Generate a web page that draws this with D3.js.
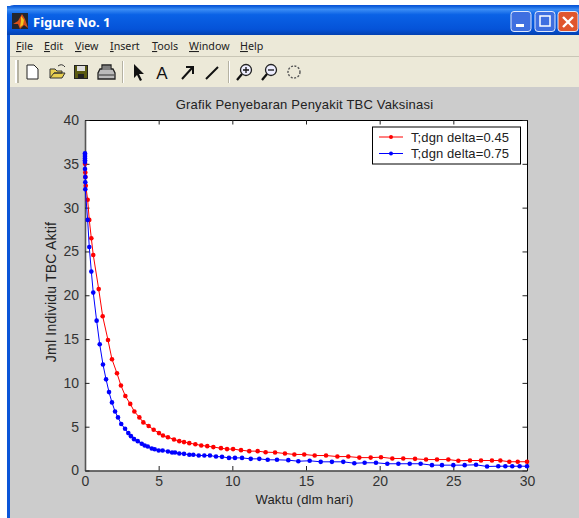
<!DOCTYPE html>
<html>
<head>
<meta charset="utf-8">
<script src="https://cdn.jsdelivr.net/npm/d3@7"></script>
<style>
html, body { margin: 0; padding: 0; background: #fff; overflow: hidden; }
svg { display: block; }
text { font-family: "Liberation Sans", Arial, sans-serif; fill: #222; }
.menu text, .menu { font-family: "Noto Sans", sans-serif; }
</style>
</head>
<body>
<div id="chart"></div>
<script>
var chartTitle = 'Grafik Penyebaran Penyakit TBC Vaksinasi';
var xLabel = 'Waktu (dlm hari)';
var yLabel = 'Jml Individu TBC Aktif';
var xTicks = [0, 5, 10, 15, 20, 25, 30];
var yTicks = [0, 5, 10, 15, 20, 25, 30, 35, 40];
var seriesNames = ['T;dgn delta=0.45', 'T;dgn delta=0.75'];
var menuItems = ['File', 'Edit', 'View', 'Insert', 'Tools', 'Window', 'Help'];

//time + value of the delta=0.45 curve
var redT = [0, 0.02, 0.03, 0.05, 0.18, 0.29, 0.43, 0.56, 0.93, 1.20, 1.56, 1.83, 2.17, 2.44, 2.74, 3.07, 3.35, 3.69, 3.96, 4.32, 4.66, 5.02, 5.29, 5.63, 6.04, 6.40, 6.72, 7.08, 7.49, 7.89, 8.30, 8.71, 9.23, 9.64, 10.05, 10.59, 11.15, 11.72, 12.26, 12.90, 13.57, 14.21, 14.88, 15.59, 16.36, 17.13, 17.87, 18.62, 19.39, 20.09, 20.86, 21.60, 22.40, 23.15, 23.89, 24.66, 25.34, 26.13, 26.88, 27.62, 28.19, 28.80, 29.37, 30];
var redV = [35.0, 34.0, 33.5, 32.5, 30.9, 28.6, 26.5, 24.6, 20.7, 17.6, 14.9, 12.7, 11.1, 9.7, 8.5, 7.6, 6.74, 6.06, 5.49, 5.07, 4.65, 4.27, 4.0, 3.8, 3.54, 3.35, 3.24, 3.12, 3.0, 2.86, 2.78, 2.67, 2.55, 2.44, 2.44, 2.32, 2.21, 2.21, 2.09, 2.06, 1.94, 1.83, 1.83, 1.71, 1.71, 1.59, 1.59, 1.47, 1.47, 1.52, 1.37, 1.37, 1.33, 1.25, 1.25, 1.25, 1.11, 1.14, 1.14, 1.14, 1.14, 1.0, 1.0, 1.0];

//same for delta=0.75
var blueT = [0, 0, 0, 0, 0, 0, 0, 0.02, 0.02, 0.02, 0.18, 0.29, 0.43, 0.56, 0.79, 1.0, 1.22, 1.43, 1.63, 1.83, 2.04, 2.24, 2.46, 2.72, 2.94, 3.12, 3.33, 3.58, 3.85, 4.05, 4.26, 4.53, 4.73, 5.0, 5.27, 5.63, 5.91, 6.11, 6.40, 6.72, 7.08, 7.35, 7.72, 8.10, 8.48, 8.89, 9.30, 9.77, 10.18, 10.66, 11.25, 11.83, 12.40, 13.03, 13.80, 14.48, 15.25, 16.0, 16.76, 17.53, 18.28, 18.98, 19.75, 20.52, 21.27, 22.04, 22.78, 23.55, 24.23, 25.0, 25.77, 26.54, 27.29, 28.05, 28.53, 29.0, 29.5, 30];
var blueV = [36.2, 36.0, 35.8, 35.6, 35.4, 35.2, 34.4, 33.5, 32.9, 32.1, 28.6, 25.5, 22.7, 20.3, 17.1, 14.4, 12.1, 10.4, 8.95, 7.77, 6.74, 6.06, 5.3, 4.76, 4.27, 3.92, 3.58, 3.35, 3.05, 2.86, 2.74, 2.51, 2.43, 2.29, 2.29, 2.17, 2.06, 2.06, 1.94, 1.90, 1.79, 1.79, 1.71, 1.71, 1.71, 1.59, 1.56, 1.44, 1.44, 1.44, 1.33, 1.33, 1.22, 1.22, 1.18, 1.06, 1.11, 0.99, 0.99, 0.99, 0.83, 0.88, 0.88, 0.77, 0.77, 0.77, 0.77, 0.61, 0.61, 0.61, 0.61, 0.65, 0.46, 0.49, 0.49, 0.49, 0.49, 0.49];

var svg = d3.select('#chart').append('svg').attr('width', 579).attr('height', 518);
var defs = svg.append('defs');

//title bar gradient
var grad = defs.append('linearGradient').attr('id', 'titlebar').attr('x1', 0).attr('x2', 0).attr('y1', 0).attr('y2', 1);
[[0, '#0a5ad8'], [0.12, '#3a8cf4'], [0.3, '#0a62e6'], [0.8, '#0553d8'], [1, '#0340b0']].forEach(function(s) {
    grad.append('stop').attr('offset', s[0]).attr('stop-color', s[1]);
});

//window frame
svg.append('path').attr('d', 'M7,518V12Q7,5 14,5H579V518Z').attr('fill', '#0a55d8');
svg.append('rect').attr('x', 7).attr('y', 6).attr('width', 572).attr('height', 29).attr('fill', 'url(#titlebar)');
svg.append('rect').attr('x', 10).attr('y', 35).attr('width', 569).attr('height', 52).attr('fill', '#ece9d8');
svg.append('rect').attr('x', 10).attr('y', 56).attr('width', 569).attr('height', 1).attr('fill', '#c9c6b6');
svg.append('rect').attr('x', 10).attr('y', 87).attr('width', 569).attr('height', 431).attr('fill', '#cccccc');

//matlab logo
svg.append('rect').attr('x', 12).attr('y', 13).attr('width', 16).attr('height', 16).attr('fill', '#23262e');
svg.append('path').attr('d', 'M13,24L18,21L22,14L25,19L28,28L24,25L20,29L18,24Z').attr('fill', '#d8501a');
svg.append('path').attr('d', 'M21,16L24,20L23,25L20,27L21,21Z').attr('fill', '#f4c820');

svg.append('text').attr('x', 33).attr('y', 27)
    .style('font-family', '"Noto Sans", sans-serif').style('font-weight', 700).style('font-size', '13px')
    .style('fill', '#fff').text('Figure No. 1');

//window buttons
[[511, '#3f6fe0'], [535, '#3f6fe0'], [558, '#e0552c']].forEach(function(b) {
    svg.append('rect').attr('x', b[0]).attr('y', 11.5).attr('width', 20).attr('height', 20).attr('rx', 3)
        .attr('fill', b[1]).attr('stroke', '#dfe8fb').attr('stroke-width', 1);
});
svg.append('rect').attr('x', 516).attr('y', 24).attr('width', 8).attr('height', 3).attr('fill', '#fff');
svg.append('rect').attr('x', 540).attr('y', 16).attr('width', 10).attr('height', 10).attr('fill', 'none').attr('stroke', '#fff').attr('stroke-width', 1.5);
svg.append('path').attr('d', 'M563,17L573,27M573,17L563,27').attr('stroke', '#fff').attr('stroke-width', 2.4);

//menu, first letter underlined
var menuX = [16, 44, 75, 110, 152, 189, 240];
var menuU = ['F', 'E', 'V', 'I', 'T', 'W', 'H'];
svg.append('g').attr('class', 'menu').selectAll('text').data(menuItems).enter().append('text')
    .attr('x', function(d, i) { return menuX[i]; })
    .attr('y', 50)
    .style('font-size', '10.7px')
    .each(function(d, i) {
        var t = d3.select(this);
        t.append('tspan').style('text-decoration', 'underline').text(menuU[i]);
        t.append('tspan').text(d.slice(1));
    });

//toolbar
var tb = svg.append('g');
tb.append('rect').attr('x', 15).attr('y', 60).attr('width', 2).attr('height', 23).attr('fill', '#fff');
tb.append('rect').attr('x', 17).attr('y', 60).attr('width', 2).attr('height', 23).attr('fill', '#b5b2a2');
[122, 228].forEach(function(x) {
    tb.append('rect').attr('x', x).attr('y', 61).attr('width', 1).attr('height', 22).attr('fill', '#b5b2a2');
    tb.append('rect').attr('x', x + 1).attr('y', 61).attr('width', 1).attr('height', 22).attr('fill', '#fff');
});
tb.append('path').attr('d', 'M27,65H34L38,69V79H27Z').attr('fill', '#fff').attr('stroke', '#222');
tb.append('path').attr('d', 'M50,78V69H55L57,71H62V73H54L50,78H62L65,73H54').attr('fill', '#e8cf50').attr('stroke', '#333');
tb.append('path').attr('d', 'M58,66Q62,63 65,67').attr('fill', 'none').attr('stroke', '#333');
tb.append('rect').attr('x', 74.5).attr('y', 65.5).attr('width', 13).attr('height', 13).attr('fill', '#5a5a10').attr('stroke', '#222');
tb.append('rect').attr('x', 77).attr('y', 66).attr('width', 8).attr('height', 5).attr('fill', '#ddd');
tb.append('rect').attr('x', 78).attr('y', 74).attr('width', 6).attr('height', 4).attr('fill', '#222');
tb.append('path').attr('d', 'M102,65H111V69H113L115,73V79H98V73L100,69H102Z').attr('fill', '#bbb').attr('stroke', '#222').attr('stroke-width', 1.3);
tb.append('path').attr('d', 'M103,67H110M103,69H110').attr('stroke', '#444');
tb.append('path').attr('d', 'M99,75H114').attr('stroke', '#333');
tb.append('path').attr('d', 'M134,64V78L137,75L140,81L142,80L139,74H144Z').attr('fill', '#111');
tb.append('text').attr('x', 162).attr('y', 79).attr('text-anchor', 'middle').style('font-size', '17px').style('fill', '#111').text('A');
tb.append('path').attr('d', 'M182,79L192,68M186,67H193V74').attr('fill', 'none').attr('stroke', '#111').attr('stroke-width', 2);
tb.append('path').attr('d', 'M206,79L218,67').attr('stroke', '#111').attr('stroke-width', 2);
[[246, true], [271, false]].forEach(function(z) {
    tb.append('circle').attr('cx', z[0]).attr('cy', 70).attr('r', 5.5).attr('fill', '#eef').attr('stroke', '#222').attr('stroke-width', 1.3);
    tb.append('path').attr('d', 'M' + (z[0] - 4) + ',74L' + (z[0] - 9) + ',80').attr('stroke', '#111').attr('stroke-width', 2.2);
    tb.append('path').attr('d', 'M' + (z[0] - 3) + ',70H' + (z[0] + 3) + (z[1] ? 'M' + z[0] + ',67V73' : '')).attr('stroke', '#111').attr('stroke-width', 1.3);
});
tb.append('circle').attr('cx', 294).attr('cy', 72).attr('r', 6).attr('fill', 'none').attr('stroke', '#555').attr('stroke-width', 1.4).attr('stroke-dasharray', '2 1.5');

//scales
var plotLeft = 85, plotRight = 527, plotTop = 120, plotBottom = 470.5;
var x = d3.scaleLinear().domain([0, 30]).range([plotLeft, plotRight]);
var y = d3.scaleLinear().domain([0, 40]).range([plotBottom, plotTop]);

svg.append('rect').attr('x', plotLeft).attr('y', plotTop).attr('width', plotRight - plotLeft).attr('height', plotBottom - plotTop).attr('fill', '#fff');

//axes, ticks go inwards on all four sides like matlab
function styleAxis(g, color, w) {
    g.selectAll('path').attr('stroke', color).attr('stroke-width', w);
    g.selectAll('line').attr('stroke', '#222').attr('stroke-width', 1);
    g.selectAll('text').style('font-family', '"Liberation Sans", Arial, sans-serif').style('font-size', '14px').style('fill', '#333');
}
svg.append('g').attr('transform', 'translate(0,' + plotTop + ')')
    .call(d3.axisTop(x).tickValues(xTicks).tickSizeInner(-4.5).tickSizeOuter(0).tickFormat(''))
    .call(styleAxis, '#000', 1);
svg.append('g').attr('transform', 'translate(' + plotRight + ',0)')
    .call(d3.axisRight(y).tickValues(yTicks).tickSizeInner(-4.5).tickSizeOuter(0).tickFormat(''))
    .call(styleAxis, '#000', 1);
svg.append('g').attr('transform', 'translate(0,' + plotBottom + ')')
    .call(d3.axisBottom(x).tickValues(xTicks).tickSizeInner(-4.5).tickSizeOuter(0).tickPadding(6))
    .call(styleAxis, '#444', 1.4);
svg.append('g').attr('transform', 'translate(' + plotLeft + ',0)')
    .call(d3.axisLeft(y).tickValues(yTicks).tickSizeInner(-4.5).tickSizeOuter(0).tickPadding(6))
    .call(styleAxis, '#555', 1.6);

var red = redT.map(function(t, i) { return [t, redV[i]]; });
var blue = blueT.map(function(t, i) { return [t, blueV[i]]; });
var line = d3.line().x(function(d) { return x(d[0]); }).y(function(d) { return y(d[1]); });

function drawSeries(points, color) {
    svg.append('path').datum(points).attr('d', line).attr('fill', 'none').attr('stroke', color).attr('stroke-width', 1);
    svg.append('g').selectAll('circle').data(points).enter().append('circle')
        .attr('cx', function(d) { return x(d[0]); })
        .attr('cy', function(d) { return y(d[1]); })
        .attr('r', 2.3)
        .attr('fill', color);
}
drawSeries(red, '#ff0000');
drawSeries(blue, '#0000ff');

//titles
svg.append('text').attr('x', 304.5).attr('y', 108.5).attr('text-anchor', 'middle').style('font-size', '13px').style('letter-spacing', '0.2px').text(chartTitle);
svg.append('text').attr('x', 304.5).attr('y', 504).attr('text-anchor', 'middle').style('font-size', '13px').style('letter-spacing', '0.2px').text(xLabel);
svg.append('text').attr('transform', 'translate(56,292) rotate(-90)').attr('text-anchor', 'middle').style('font-size', '14px').style('letter-spacing', '0.2px').text(yLabel);

//legend
var legend = svg.append('g');
legend.append('rect').attr('x', 372.5).attr('y', 127).attr('width', 148).attr('height', 37).attr('fill', '#fff').attr('stroke', '#000');
[['#ff0000', 137], ['#0000ff', 153.5]].forEach(function(l, i) {
    legend.append('line').attr('x1', 379).attr('x2', 403).attr('y1', l[1]).attr('y2', l[1]).attr('stroke', l[0]);
    legend.append('circle').attr('cx', 391).attr('cy', l[1]).attr('r', 2).attr('fill', l[0]);
    legend.append('text').attr('x', 411).attr('y', l[1] + 4.5).style('font-size', '13px').style('letter-spacing', '0.1px').text(seriesNames[i]);
});
</script>
</body>
</html>
